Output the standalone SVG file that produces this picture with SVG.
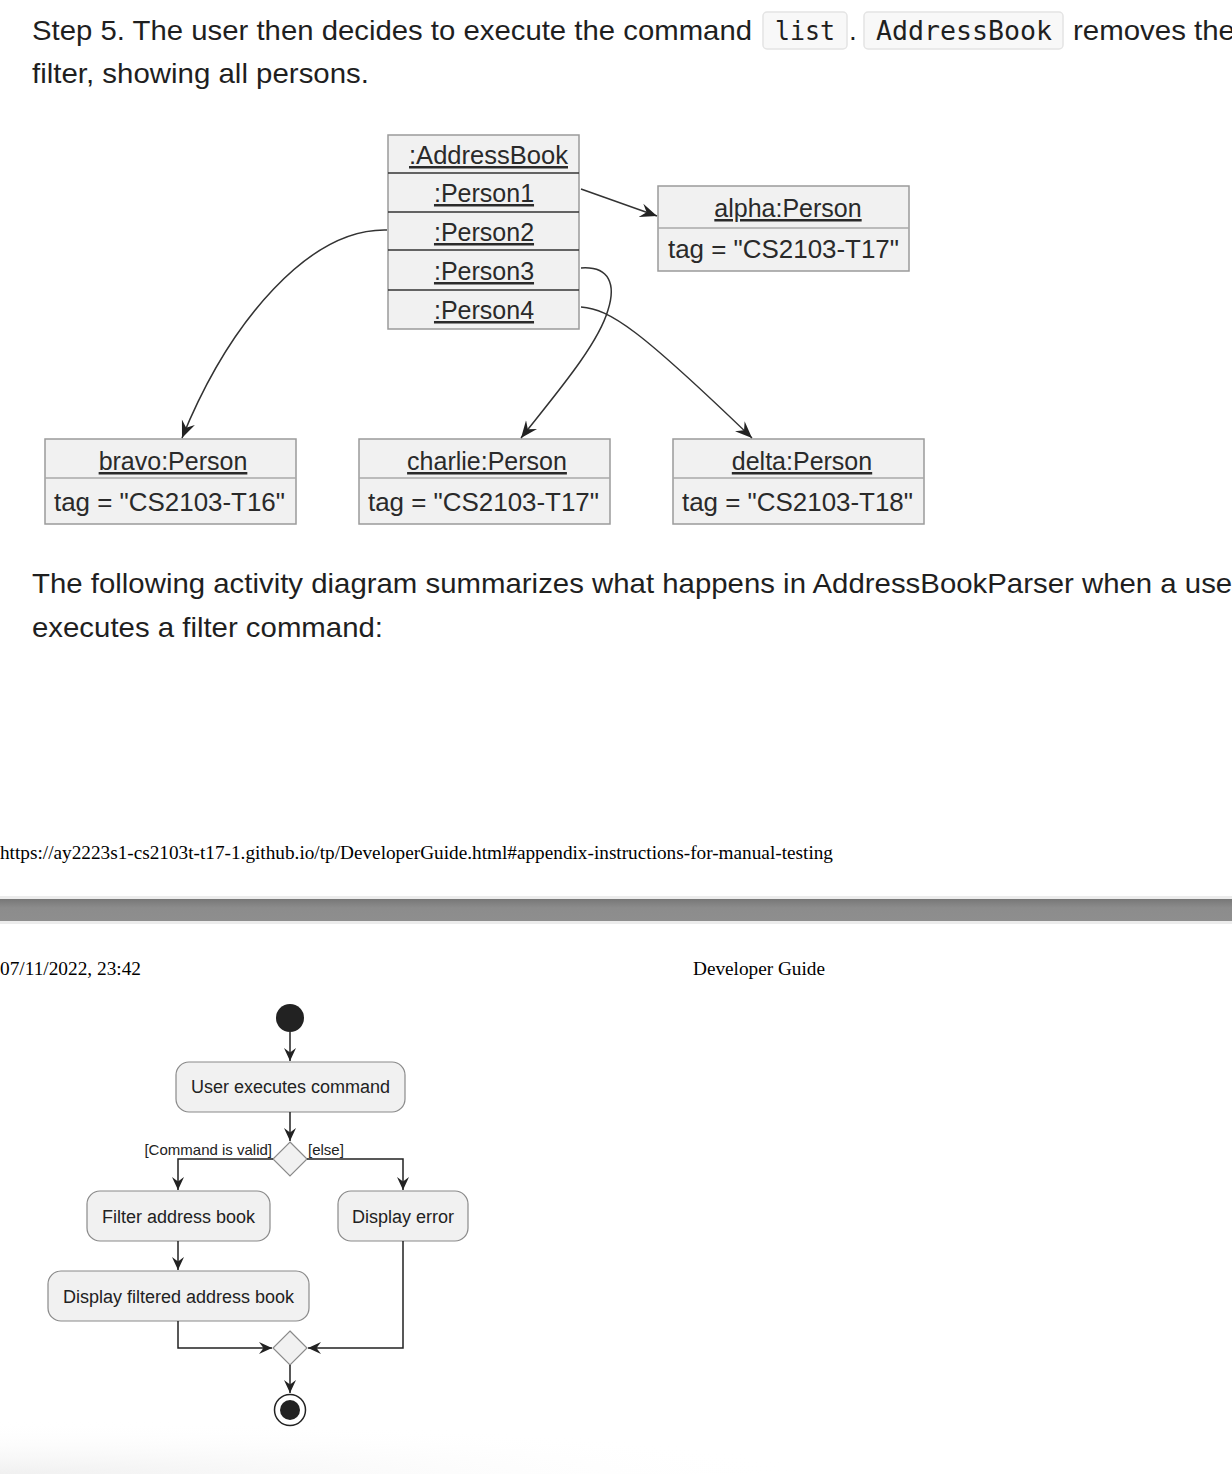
<svg xmlns="http://www.w3.org/2000/svg" width="1232" height="1474" viewBox="0 0 1232 1474">
<style>
.body{font-family:"Liberation Sans",Arial,sans-serif;font-size:28px;fill:#1f1f1f}
.mono{font-family:"DejaVu Sans Mono","Liberation Mono",monospace;font-size:26px;fill:#1f1f1f}
.chip{fill:#f8f8f8;stroke:#e4e4e4;stroke-width:1.5}
.serif{font-family:"Liberation Serif","Times New Roman",serif;font-size:18px;fill:#000}
.obj{fill:#f1f1f1;stroke:#9a9a9a;stroke-width:1.5}
.sepd{stroke:#333;stroke-width:1.5}
.sepl{stroke:#a8a8a8;stroke-width:1.5}
.ot{font-family:"Liberation Sans",Arial,sans-serif;font-size:25px;fill:#2a2a2a}
.u{text-decoration:underline}
.c{text-anchor:middle}
.act{fill:#f1f1f1;stroke:#8a8a8a;stroke-width:1.2}
.at{font-family:"Liberation Sans",Arial,sans-serif;font-size:18px;fill:#222;text-anchor:middle}
.gl{font-family:"Liberation Sans",Arial,sans-serif;font-size:15px;fill:#222}
.dia{fill:#f1f1f1;stroke:#8a8a8a;stroke-width:1.2}
.ln{fill:none;stroke:#333;stroke-width:1.5}
.ln2{fill:none;stroke:#222;stroke-width:1.5}
</style>
<defs>
<marker id="ah" markerUnits="userSpaceOnUse" markerWidth="18" markerHeight="16" viewBox="0 0 18 16" refX="17" refY="8" orient="auto"><path d="M17,8 L0,1 L6,8 L0,15 Z" fill="#222"/></marker>
<marker id="ah2" markerUnits="userSpaceOnUse" markerWidth="14" markerHeight="14" viewBox="0 0 14 14" refX="13" refY="7" orient="auto"><path d="M13,7 L0,1 L4.5,7 L0,13 Z" fill="#222"/></marker>
<linearGradient id="bar" x1="0" y1="0" x2="0" y2="1"><stop offset="0" stop-color="#777"/><stop offset="0.4" stop-color="#8c8c8c"/><stop offset="1" stop-color="#8e8e8e"/></linearGradient>
<radialGradient id="shade" cx="0" cy="1" r="1" gradientUnits="objectBoundingBox"><stop offset="0" stop-color="#f0f0f0"/><stop offset="1" stop-color="#ffffff" stop-opacity="0"/></radialGradient>
</defs>
<rect width="1232" height="1474" fill="#fff"/>
<rect x="0" y="1420" width="820" height="54" fill="url(#shade)"/>

<g id="paragraph1">
<text class="body" x="32" y="40" textLength="720" lengthAdjust="spacingAndGlyphs">Step 5. The user then decides to execute the command</text>
<rect class="chip" x="763" y="12" width="84" height="37" rx="4"/>
<text class="mono" x="775" y="40" textLength="60" lengthAdjust="spacingAndGlyphs">list</text>
<text class="body" x="849" y="40">.</text>
<rect class="chip" x="864" y="12" width="199" height="37" rx="4"/>
<text class="mono" x="876" y="40" textLength="176" lengthAdjust="spacingAndGlyphs">AddressBook</text>
<text class="body" x="1073" y="40" textLength="162" lengthAdjust="spacingAndGlyphs">removes the</text>
<text class="body" x="32" y="83" textLength="337" lengthAdjust="spacingAndGlyphs">filter, showing all persons.</text>
</g>

<g id="addressbook">
<rect class="obj" x="388" y="135" width="191" height="194"/>
<line class="sepd" x1="388" y1="173" x2="579" y2="173"/>
<line class="sepd" x1="388" y1="212" x2="579" y2="212"/>
<line class="sepd" x1="388" y1="250" x2="579" y2="250"/>
<line class="sepd" x1="388" y1="290" x2="579" y2="290"/>
<text class="ot u" x="409" y="164" textLength="159" lengthAdjust="spacingAndGlyphs">:AddressBook</text>
<text class="ot u c" x="484" y="202">:Person1</text>
<text class="ot u c" x="484" y="241">:Person2</text>
<text class="ot u c" x="484" y="280">:Person3</text>
<text class="ot u c" x="484" y="319">:Person4</text>
</g>

<g id="alpha">
<rect class="obj" x="658" y="186" width="251" height="85"/>
<line class="sepl" x1="658" y1="228" x2="909" y2="228"/>
<text class="ot u c" x="788" y="217">alpha:Person</text>
<text class="ot" x="668" y="258" textLength="231" lengthAdjust="spacingAndGlyphs">tag = "CS2103-T17"</text>
</g>

<g id="bravo">
<rect class="obj" x="45" y="439" width="251" height="85"/>
<line class="sepl" x1="45" y1="478" x2="296" y2="478"/>
<text class="ot u c" x="173" y="470">bravo:Person</text>
<text class="ot" x="54" y="511" textLength="231" lengthAdjust="spacingAndGlyphs">tag = "CS2103-T16"</text>
</g>

<g id="charlie">
<rect class="obj" x="359" y="439" width="251" height="85"/>
<line class="sepl" x1="359" y1="478" x2="610" y2="478"/>
<text class="ot u c" x="487" y="470">charlie:Person</text>
<text class="ot" x="368" y="511" textLength="231" lengthAdjust="spacingAndGlyphs">tag = "CS2103-T17"</text>
</g>

<g id="delta">
<rect class="obj" x="673" y="439" width="251" height="85"/>
<line class="sepl" x1="673" y1="478" x2="924" y2="478"/>
<text class="ot u c" x="802" y="470">delta:Person</text>
<text class="ot" x="682" y="511" textLength="231" lengthAdjust="spacingAndGlyphs">tag = "CS2103-T18"</text>
</g>

<g id="paragraph2">
<text class="body" x="32" y="593" textLength="1210" lengthAdjust="spacingAndGlyphs">The following activity diagram summarizes what happens in AddressBookParser when a user</text>
<text class="body" x="32" y="637" textLength="351" lengthAdjust="spacingAndGlyphs">executes a filter command:</text>
</g>

<g id="pagebreak">
<text class="serif" x="0" y="859" textLength="833" lengthAdjust="spacingAndGlyphs">https://ay2223s1-cs2103t-t17-1.github.io/tp/DeveloperGuide.html#appendix-instructions-for-manual-testing</text>
<rect x="0" y="896" width="1232" height="3" fill="#ececec"/>
<rect x="0" y="899" width="1232" height="22" fill="url(#bar)"/>
<rect x="0" y="921" width="1232" height="3" fill="#ececec"/>
<text class="serif" x="0" y="975" textLength="141" lengthAdjust="spacingAndGlyphs">07/11/2022, 23:42</text>
<text class="serif" x="693" y="975" textLength="132" lengthAdjust="spacingAndGlyphs">Developer Guide</text>
</g>

<g id="start"><circle cx="290" cy="1018" r="14" fill="#222"/></g>
<g id="userexec">
<rect class="act" x="176" y="1062" width="229" height="50" rx="13"/>
<text class="at" x="290.5" y="1093">User executes command</text>
</g>
<g id="decision">
<polygon class="dia" points="290,1142 307,1159 290,1176 273,1159"/>
<text class="gl" x="272" y="1155" text-anchor="end">[Command is valid]</text>
<text class="gl" x="308" y="1155">[else]</text>
</g>
<g id="filter">
<rect class="act" x="87" y="1191" width="183" height="50" rx="13"/>
<text class="at" x="178.5" y="1223">Filter address book</text>
</g>
<g id="displayerror">
<rect class="act" x="338" y="1191" width="130" height="50" rx="13"/>
<text class="at" x="403" y="1223">Display error</text>
</g>
<g id="displayfiltered">
<rect class="act" x="48" y="1271" width="261" height="50" rx="13"/>
<text class="at" x="178.5" y="1303">Display filtered address book</text>
</g>
<g id="merge"><polygon class="dia" points="290,1331 307,1348 290,1365 273,1348"/></g>
<g id="end">
<circle cx="290" cy="1410" r="15.5" fill="#fff" stroke="#222" stroke-width="1.5"/>
<circle cx="290" cy="1410" r="10" fill="#222"/>
</g>

<g id="connectors">
<line class="ln" x1="581" y1="189" x2="657" y2="216" marker-end="url(#ah)"/>
<path class="ln" d="M387,230 C310,228 230,320 182,438" marker-end="url(#ah)"/>
<path class="ln" d="M581,268 C610,266 616,285 608,310 C598,345 555,395 521,438" marker-end="url(#ah)"/>
<path class="ln" d="M581,307 C610,309 640,330 752,438" marker-end="url(#ah)"/>

<line class="ln2" x1="290" y1="1032" x2="290" y2="1061" marker-end="url(#ah2)"/>
<line class="ln2" x1="290" y1="1112" x2="290" y2="1141" marker-end="url(#ah2)"/>
<polyline class="ln2" points="273,1159 178,1159 178,1190" marker-end="url(#ah2)"/>
<polyline class="ln2" points="307,1159 403,1159 403,1190" marker-end="url(#ah2)"/>
<line class="ln2" x1="178" y1="1241" x2="178" y2="1270" marker-end="url(#ah2)"/>
<polyline class="ln2" points="178,1321 178,1348 272,1348" marker-end="url(#ah2)"/>
<polyline class="ln2" points="403,1241 403,1348 308,1348" marker-end="url(#ah2)"/>
<line class="ln2" x1="290" y1="1365" x2="290" y2="1393" marker-end="url(#ah2)"/>
</g>
</svg>
